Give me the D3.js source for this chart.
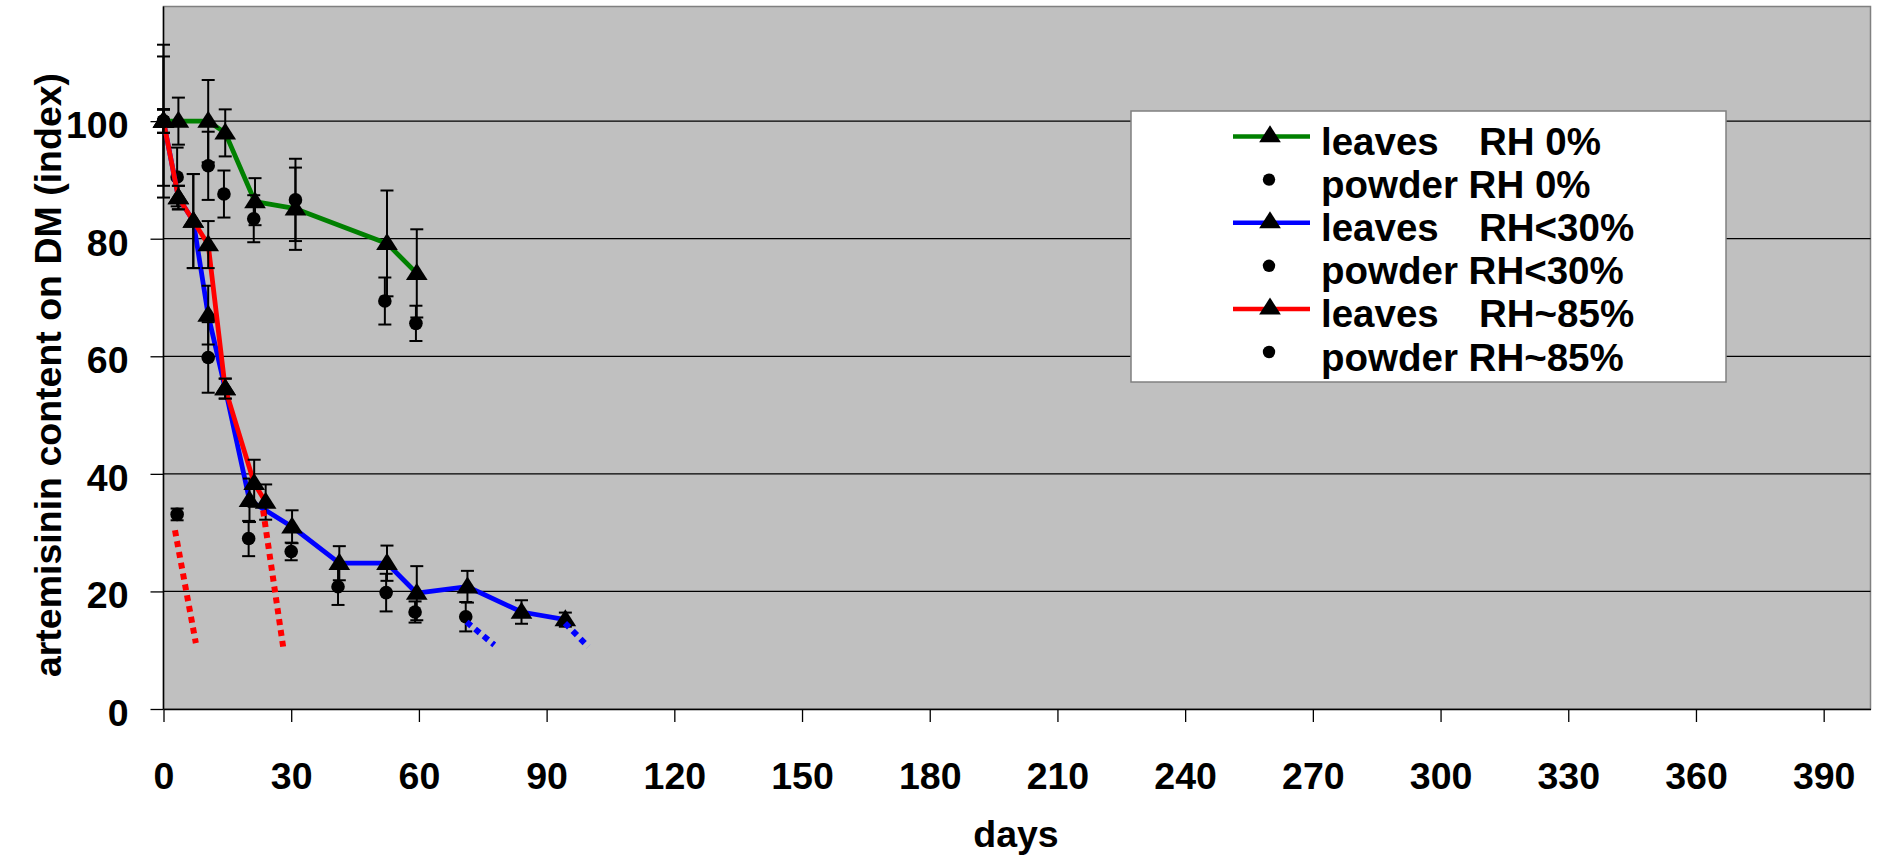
<!DOCTYPE html>
<html>
<head>
<meta charset="utf-8">
<script src="https://cdn.jsdelivr.net/npm/d3@7"></script>
<style>
    body { margin: 0; background: #fff; }
    svg { display: block; font-family: "Liberation Sans", Arial, Helvetica, sans-serif; font-weight: bold; }
</style>
</head>
<body>
<div id="chart"></div>
<script>
// tick labels
const xTicks = [0, 30, 60, 90, 120, 150, 180, 210, 240, 270, 300, 330, 360, 390];
const yTicks = [0, 20, 40, 60, 80, 100];

// leaves RH 0%
const leavesRH0Days = [0, 3.5, 10.5, 14.5, 21.5, 31, 52.5, 59.5];
const leavesRH0 = [100, 100, 100, 98, 86.3, 85.1, 79.2, 74.1];
const leavesRH0Err = [13, 4, 7, 4, 4, 7, 9, 7.5];

// powder RH 0%
const powderRH0Days = [0, 3.2, 10.5, 14.2, 21.2, 31, 52, 59.3];
const powderRH0 = [100, 90.5, 92.4, 87.6, 83.4, 86.6, 69.4, 65.6];
const powderRH0Err = [11, 5, 5.8, 4, 4, 7, 4, 3];

// leaves RH<30%
const leavesRH30Days = [0, 3.5, 7, 10.5, 14.5, 20.2, 30.2, 41.3, 52.5, 59.5, 71.4, 84.1, 94.4];
const leavesRH30 = [100, 87, 83, 67, 54.5, 35.5, 31, 24.8, 24.8, 19.7, 20.8, 16.5, 15.2];
const leavesRH30Err = [2, 2, 8, 5, 1.7, 3.7, 2.8, 2.9, 3, 4.6, 2.7, 2, 1.2];

// powder RH<30%
const powderRH30Days = [0, 10.5, 20, 30, 41, 52.3, 59.1, 71];
const powderRH30 = [100, 59.8, 29, 26.8, 20.8, 19.8, 16.5, 15.7];
const powderRH30Err = [2, 6, 3, 1.5, 3.1, 3.2, 1.8, 2.5];

// leaves RH~85%
const leavesRH85Days = [0, 3.5, 7, 10.5, 14.5, 21.3, 24];
const leavesRH85 = [100, 87, 83, 79, 54.5, 38.4, 35.2];
const leavesRH85Err = [2, 2, 8, 4, 1.7, 4, 3];

// powder RH~85%
const powderRH85Days = [0, 3.2];
const powderRH85 = [100, 33.1];
const powderRH85Err = [2, 1];

// dotted projections (start and end of each)
const trendDays = [[2.7, 7.6], [23.4, 28.1], [71.2, 77.7], [94.3, 99.8]];
const trendValues = [[30.4, 11.2], [33.8, 10.6], [14.8, 10.9], [14.6, 10.6]];
const trendColors = ["#ff0000", "#ff0000", "#0000ff", "#0000ff"];

const legendLabels = [
    ["leaves", "RH 0%"],
    ["powder RH 0%", null],
    ["leaves", "RH<30%"],
    ["powder RH<30%", null],
    ["leaves", "RH~85%"],
    ["powder RH~85%", null]
];

const width = 1878;
const height = 859;
const fontSize = 37.5;

const svg = d3.select("#chart")
    .append("svg")
    .attr("width", width)
    .attr("height", height);

const x = d3.scaleLinear().domain([0, 401]).range([163.5, 1870.5]);
const y = d3.scaleLinear().domain([0, 119.5]).range([709, 6.5]);

//plot background
svg.append("rect")
    .attr("x", x(0))
    .attr("y", y(119.5))
    .attr("width", x(401) - x(0))
    .attr("height", y(0) - y(119.5))
    .attr("fill", "#c0c0c0")
    .attr("stroke", "#808080")
    .attr("stroke-width", 1.5);

//gridlines
svg.append("g")
    .selectAll("line")
    .data(yTicks.filter(t => t > 0))
    .enter()
    .append("line")
    .attr("x1", x(0))
    .attr("x2", x(401))
    .attr("y1", d => y(d))
    .attr("y2", d => y(d))
    .attr("stroke", "#000")
    .attr("stroke-width", 1.2);

//axes
const yAxis = svg.append("g")
    .attr("transform", `translate(${x(0)},0)`)
    .call(d3.axisLeft(y).tickValues(yTicks).tickSize(13).tickPadding(22).tickSizeOuter(0));

const xAxis = svg.append("g")
    .attr("transform", `translate(0,${y(0)})`)
    .call(d3.axisBottom(x).tickValues(xTicks).tickSize(13).tickPadding(40).tickSizeOuter(0));

[xAxis, yAxis].forEach(axis => {
    axis.select(".domain").attr("stroke", "#000").attr("stroke-width", 1.5);
    axis.selectAll(".tick line").attr("stroke", "#000").attr("stroke-width", 1.3);
    axis.selectAll("text")
        .attr("font-size", fontSize)
        .attr("font-family", "Liberation Sans, Arial, sans-serif")
        .attr("font-weight", "bold")
        .attr("fill", "#000");
});
yAxis.selectAll("text").attr("dy", "0.44em");
// y axis line runs the full height of the plot
yAxis.select(".domain").attr("d", `M0,${y(0)}V${y(119.5)}`);

//axis titles
svg.append("text")
    .attr("x", 1016)
    .attr("y", 846.5)
    .attr("text-anchor", "middle")
    .attr("font-size", fontSize)
    .text("days");

svg.append("text")
    .attr("transform", "translate(61,375) rotate(-90)")
    .attr("text-anchor", "middle")
    .attr("font-size", fontSize)
    .text("artemisinin content on DM (index)");

const series = [
    { days: leavesRH0Days, values: leavesRH0, err: leavesRH0Err, color: "#008000", marker: "triangle" },
    { days: powderRH0Days, values: powderRH0, err: powderRH0Err, color: null, marker: "circle" },
    { days: leavesRH30Days, values: leavesRH30, err: leavesRH30Err, color: "#0000ff", marker: "triangle" },
    { days: powderRH30Days, values: powderRH30, err: powderRH30Err, color: null, marker: "circle" },
    { days: leavesRH85Days, values: leavesRH85, err: leavesRH85Err, color: "#ff0000", marker: "triangle" },
    { days: powderRH85Days, values: powderRH85, err: powderRH85Err, color: null, marker: "circle" }
];

const line = d3.line()
    .x(d => x(d[0]))
    .y(d => y(d[1]));

const triangle = d3.symbol().type(d3.symbolTriangle).size(185);

series.forEach(s => {
    const points = s.days.map((d, i) => [d, s.values[i], s.err[i]]);
    const g = svg.append("g");

    if (s.color) {
        g.append("path")
            .attr("d", line(points))
            .attr("fill", "none")
            .attr("stroke", s.color)
            .attr("stroke-width", 4.8)
            .attr("stroke-linejoin", "round");
    }

    //error bars
    const bars = g.selectAll(".err")
        .data(points)
        .enter()
        .append("g")
        .attr("stroke", "#000")
        .attr("stroke-width", 2);
    bars.append("line")
        .attr("x1", d => x(d[0])).attr("x2", d => x(d[0]))
        .attr("y1", d => y(d[1] + d[2])).attr("y2", d => y(d[1] - d[2]));
    bars.append("line")
        .attr("x1", d => x(d[0]) - 6.5).attr("x2", d => x(d[0]) + 6.5)
        .attr("y1", d => y(d[1] + d[2])).attr("y2", d => y(d[1] + d[2]));
    bars.append("line")
        .attr("x1", d => x(d[0]) - 6.5).attr("x2", d => x(d[0]) + 6.5)
        .attr("y1", d => y(d[1] - d[2])).attr("y2", d => y(d[1] - d[2]));

    //markers
    if (s.marker === "triangle") {
        g.selectAll(".mark")
            .data(points)
            .enter()
            .append("path")
            .attr("d", triangle)
            .attr("transform", d => `translate(${x(d[0])},${y(d[1]) + 1}) scale(1.05,0.95)`)
            .attr("fill", "#000");
    } else {
        g.selectAll(".mark")
            .data(points)
            .enter()
            .append("circle")
            .attr("cx", d => x(d[0]))
            .attr("cy", d => y(d[1]))
            .attr("r", 6.8)
            .attr("fill", "#000");
    }
});

//dotted projections
trendDays.forEach((days, i) => {
    svg.append("path")
        .attr("d", line([[days[0], trendValues[i][0]], [days[1], trendValues[i][1]]]))
        .attr("fill", "none")
        .attr("stroke", trendColors[i])
        .attr("stroke-width", 6)
        .attr("stroke-dasharray", "6,5");
});

//legend
const legend = svg.append("g");
legend.append("rect")
    .attr("x", 1131)
    .attr("y", 111)
    .attr("width", 595)
    .attr("height", 271)
    .attr("fill", "#fff")
    .attr("stroke", "#808080")
    .attr("stroke-width", 1.5);

const legendColors = ["#008000", null, "#0000ff", null, "#ff0000", null];

legendLabels.forEach((label, i) => {
    const baseline = 155 + i * 43.1;
    const symbolY = baseline - 18.5;
    const row = legend.append("g");
    if (legendColors[i]) {
        row.append("line")
            .attr("x1", 1233).attr("x2", 1310)
            .attr("y1", symbolY).attr("y2", symbolY)
            .attr("stroke", legendColors[i])
            .attr("stroke-width", 4.5);
        row.append("path")
            .attr("d", triangle)
            .attr("transform", `translate(1270,${symbolY}) scale(1.05,0.95)`)
            .attr("fill", "#000");
    } else {
        row.append("circle")
            .attr("cx", 1269)
            .attr("cy", symbolY)
            .attr("r", 6.2)
            .attr("fill", "#000");
    }
    row.append("text")
        .attr("x", 1321)
        .attr("y", baseline)
        .attr("font-size", 38.5)
        .text(label[0]);
    if (label[1]) {
        row.append("text")
            .attr("x", 1479)
            .attr("y", baseline)
            .attr("font-size", 38.5)
            .text(label[1]);
    }
});
</script>
</body>
</html>
